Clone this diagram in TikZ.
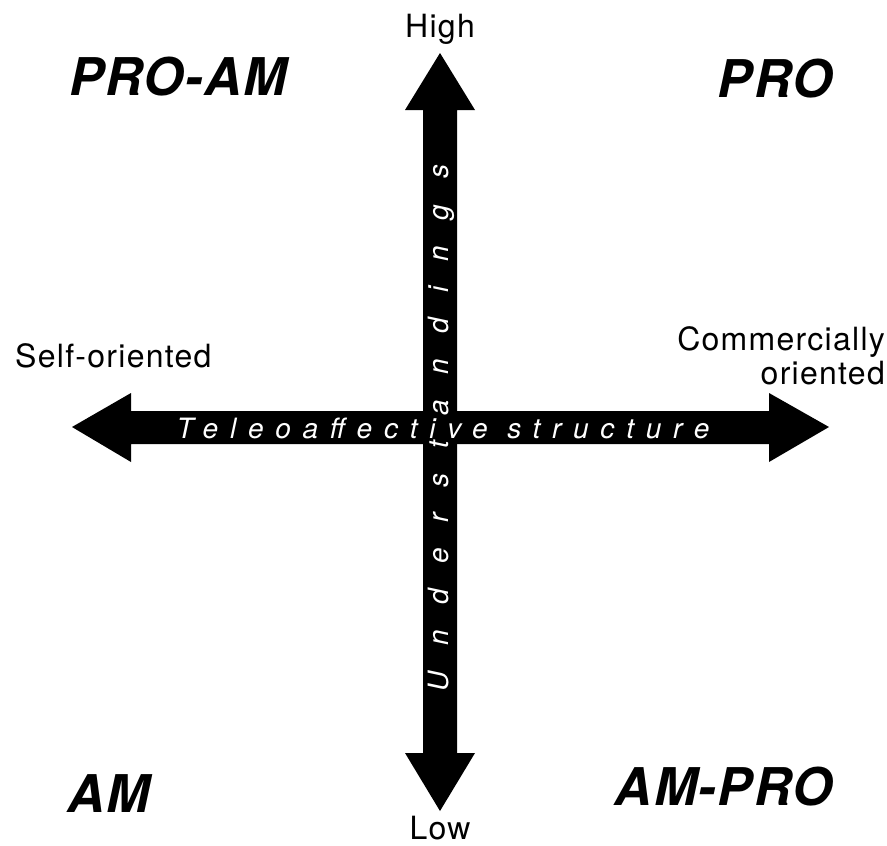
\documentclass[tikz,border=0pt]{standalone}
\usepackage{fontspec}
\setmainfont{TeX Gyre Heros}
\begin{document}
\begin{tikzpicture}[x=1pt,y=-1pt,
  lbl/.style={inner sep=0pt,font=\fontsize{32}{36}\selectfont\addfontfeature{LetterSpace=4}},
  quad/.style={inner sep=0pt,font=\fontsize{52}{58}\selectfont\bfseries\itshape\addfontfeature{LetterSpace=3}},
  axtext/.style={inner sep=0pt,text=white}]
\useasboundingbox (0,0) rectangle (887,846);
% axes
\fill[black] (423,110) -- (405,110) -- (440,53) -- (475,110) -- (457,110)
  -- (457,753) -- (475,753) -- (440,811) -- (405,753) -- (423,753) -- cycle;
\fill[black] (131,411) -- (131,393) -- (72,427) -- (131,462) -- (131,444)
  -- (769,444) -- (769,462) -- (829,427) -- (769,393) -- (769,411) -- cycle;
% axis texts
\node[axtext,anchor=base] (tele) at (443,438)
  {\fontsize{28}{30}\selectfont\itshape\addfontfeature{LetterSpace=42}Teleoaffective structure};
\node[axtext,anchor=base,rotate=90] (under) at (448,428)
  {\fontsize{28}{30}\selectfont\itshape\addfontfeature{LetterSpace=91}Understandings};
% end labels
\node[lbl,anchor=base] (high) at (440,37) {High};
\node[lbl,anchor=base] (low) at (440,839) {Low};
\node[lbl,anchor=base west] (self) at (15,367) {Self-oriented};
\node[lbl,anchor=base east] (comm1) at (885,350) {Commercially};
\node[lbl,anchor=base east] (comm2) at (885,384) {oriented};
% quadrant labels
\node[quad,anchor=base west] (proam) at (69,95) {PRO-AM};
\node[quad,anchor=base east] (pro) at (833,97) {PRO};
\node[quad,anchor=base west] (am) at (67,812) {AM};
\node[quad,anchor=base east] (ampro) at (833,805) {AM-PRO};
\end{tikzpicture}
\end{document}
